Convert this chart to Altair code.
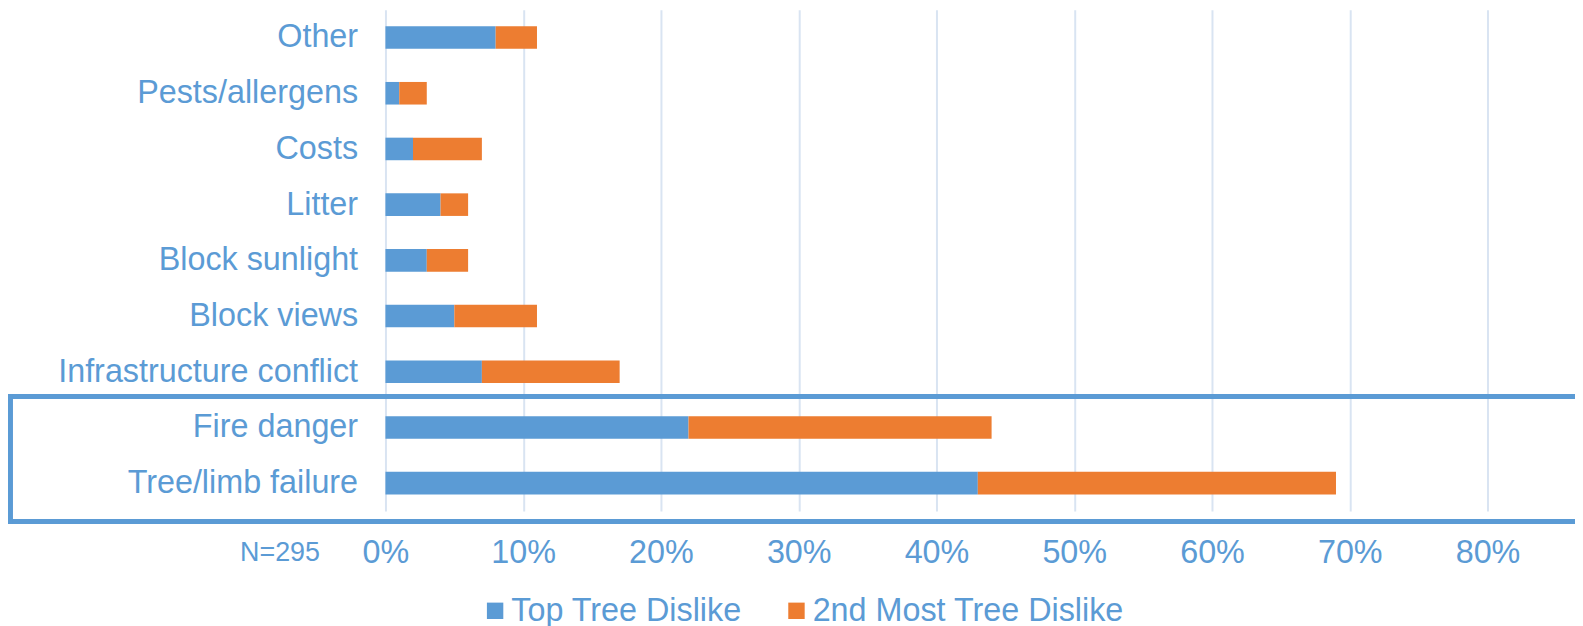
import altair as alt
import pandas as pd

categories = ["Other", "Pests/allergens", "Costs", "Litter", "Block sunlight",
              "Block views", "Infrastructure conflict", "Fire danger", "Tree/limb failure"]
top_dislike = [8, 1, 2, 4, 3, 5, 7, 22, 43]
second_dislike = [3, 2, 5, 2, 3, 6, 10, 22, 26]
series_names = ["Top Tree Dislike", "2nd Most Tree Dislike"]
series_colors = ["#5B9BD5", "#ED7D31"]
x_ticks = [0, 0.1, 0.2, 0.3, 0.4, 0.5, 0.6, 0.7, 0.8]
note_text = "N=295"

rows = []
for c, a, b in zip(categories, top_dislike, second_dislike):
    rows.append({"category": c, "series": series_names[0], "value": a / 100, "ord": 0})
    rows.append({"category": c, "series": series_names[1], "value": b / 100, "ord": 1})
df = pd.DataFrame(rows)

FONT = "Liberation Sans"
TXT = "#5B9BD5"
W, H = 1196, 504
PAD_LEFT = 379.5

bars = alt.Chart(df).mark_bar(size=22.7).encode(
    y=alt.Y("category:N", sort=categories, title=None,
            scale=alt.Scale(domain=categories, paddingInner=0, paddingOuter=0),
            axis=alt.Axis(labelFont=FONT, labelFontSize=32.5, labelColor=TXT,
                          labelPadding=28, ticks=False, tickSize=0, domain=False,
                          grid=False, labelLimit=500)),
    x=alt.X("value:Q", stack="zero", title=None,
            scale=alt.Scale(domain=[0, 0.8635], nice=False, zero=True),
            axis=alt.Axis(values=x_ticks, format=".0%", labelFont=FONT, labelFontSize=32.5,
                          labelColor=TXT, labelPadding=26, ticks=False, tickSize=0,
                          domain=False, grid=True, gridColor="#D9E4F2", gridWidth=2,
                          labelFlush=False)),
    color=alt.Color("series:N", scale=alt.Scale(domain=series_names, range=series_colors),
                    legend=alt.Legend(title=None, orient="none", direction="horizontal",
                                      legendX=94, legendY=588, padding=0,
                                      symbolType="square", symbolSize=272,
                                      symbolStrokeWidth=0, symbolOffset=0,
                                      labelFont=FONT, labelFontSize=32.5, labelColor=TXT,
                                      labelOffset=0, columnPadding=38, labelLimit=500)),
    order=alt.Order("ord:Q"),
)

one = pd.DataFrame({"a": [0]})
BOX = "#5B9BD5"
top_rule = alt.Chart(one).mark_rule(color=BOX, strokeWidth=5, strokeCap="butt").encode(
    x=alt.value(-377), x2=alt.value(W), y=alt.value(389))
bot_rule = alt.Chart(one).mark_rule(color=BOX, strokeWidth=5, strokeCap="butt").encode(
    x=alt.value(-377), x2=alt.value(W), y=alt.value(514.5))
left_rule = alt.Chart(one).mark_rule(color=BOX, strokeWidth=5, strokeCap="square").encode(
    x=alt.value(-377), y=alt.value(389), y2=alt.value(514.5))

note = alt.Chart(pd.DataFrame({"t": [note_text]})).mark_text(
    font=FONT, fontSize=27, color=TXT, align="center", baseline="alphabetic"
).encode(text="t:N", x=alt.value(-106), y=alt.value(554))

chart = alt.layer(bars, top_rule, bot_rule, left_rule, note).properties(
    width=W, height=H, background="white",
    autosize=alt.AutoSizeParams(type="none"),
    padding={"left": PAD_LEFT, "top": 0, "right": 0, "bottom": 126},
).configure_view(strokeWidth=0)

chart.save("out.html", embed_options={"renderer": "svg", "actions": False})
